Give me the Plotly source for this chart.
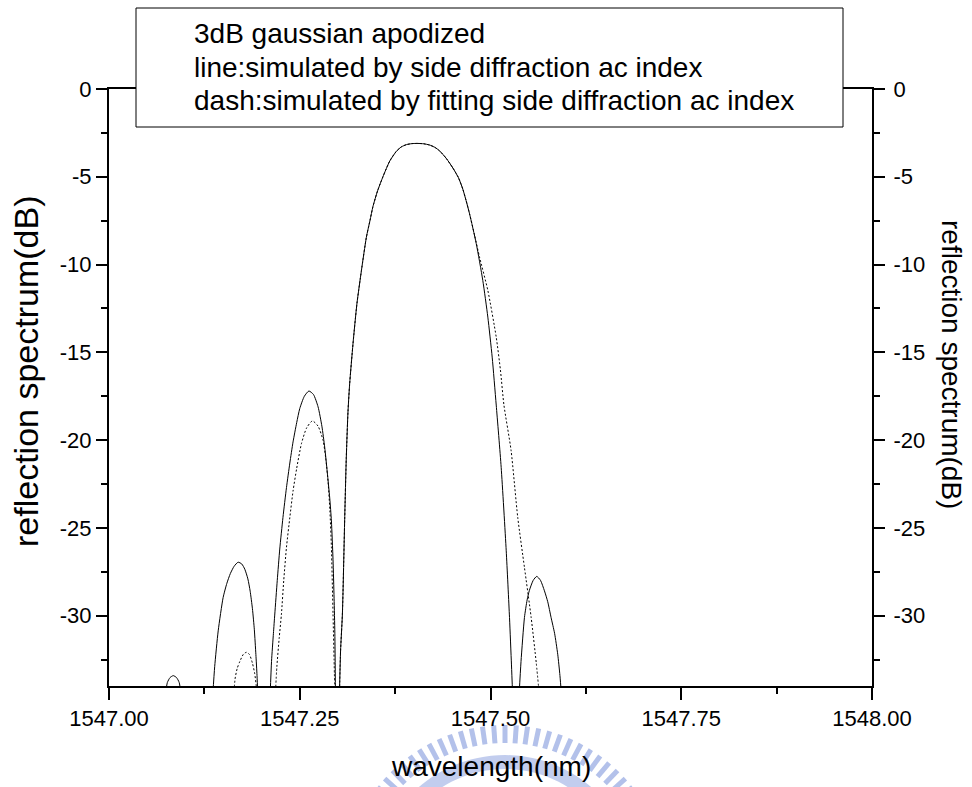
import math
import plotly.graph_objects as go

# ---- reflection spectrum, side-diffraction ac index (solid) ----
# each side lobe is its own run of points; None breaks the line between lobes
wl_side = [
    1547.0740, 1547.0765, 1547.0800, 1547.0842, 1547.0885, 1547.0920, 1547.0945, None,
    1547.1360, 1547.1385, 1547.1431, 1547.1496, 1547.1545, 1547.1590, 1547.1640, 1547.1692,
    1547.1740, 1547.1780, 1547.1820, 1547.1850, 1547.1880, 1547.1905, 1547.1925, 1547.1940,
    1547.1950, None,
    1547.2112, 1547.2130, 1547.2155, 1547.2173, 1547.2205, 1547.2238, 1547.2280, 1547.2326,
    1547.2370, 1547.2412, 1547.2460, 1547.2500, 1547.2560, 1547.2620, 1547.2680, 1547.2740,
    1547.2790, 1547.2827, 1547.2860, 1547.2893, 1547.2915, 1547.2936, 1547.2950, 1547.2960,
    1547.2968, None,
    1547.3020, 1547.3035, 1547.3059, 1547.3089, 1547.3110, 1547.3132, 1547.3154, 1547.3198,
    1547.3250, 1547.3308, 1547.3373, 1547.3420, 1547.3459, 1547.3520, 1547.3590, 1547.3680,
    1547.3766, 1547.3830, 1547.3897, 1547.3970, 1547.4048, 1547.4125, 1547.4201, 1547.4270,
    1547.4332, 1547.4420, 1547.4507, 1547.4580, 1547.4637, 1547.4680, 1547.4725, 1547.4813,
    1547.4899, 1547.4965, 1547.5022, 1547.5075, 1547.5140, 1547.5206, 1547.5249, 1547.5275,
    1547.5290, None,
    1547.5375, 1547.5400, 1547.5445, 1547.5480, 1547.5510, 1547.5560, 1547.5606, 1547.5655,
    1547.5707, 1547.5750, 1547.5794, 1547.5840, 1547.5881, 1547.5910, 1547.5930,
]
db_side = [
    -34.5, -33.80, -33.52, -33.41, -33.52, -33.80, -34.5, None,
    -34.5, -32.9, -30.86, -28.96, -28.15, -27.60, -27.18, -26.95,
    -27.05, -27.35, -27.9, -28.6, -29.6, -30.8, -32.2, -33.4,
    -34.5, None,
    -34.5, -32.6, -31.0, -29.9, -28.0, -26.2, -24.4, -22.7,
    -21.3, -20.1, -19.0, -18.2, -17.5, -17.2, -17.4, -18.1,
    -19.2, -20.4, -21.8, -23.3, -24.6, -26.8, -29.0, -31.0,
    -34.5, None,
    -34.5, -32.0, -29.9, -24.5, -21.0, -18.4, -16.8, -14.5,
    -12.2, -10.35, -8.45, -7.5, -6.7, -5.8, -5.0, -4.1,
    -3.55, -3.3, -3.17, -3.11, -3.10, -3.12, -3.19, -3.32,
    -3.52, -3.95, -4.5, -5.05, -5.7, -6.35, -7.1, -8.80,
    -10.90, -12.99, -15.27, -18.0, -21.55, -26.30, -30.10, -32.8,
    -34.5, None,
    -34.5, -32.6, -30.1, -29.1, -28.55, -27.98, -27.76, -27.98,
    -28.58, -29.2, -30.10, -31.0, -32.19, -33.4, -34.5,
]

# ---- reflection spectrum, fitted side-diffraction ac index (dotted) ----
wl_fit = [
    1547.1636, 1547.1652, 1547.1680, 1547.1715, 1547.1760, 1547.1800, 1547.1840, 1547.1880,
    1547.1910, 1547.1930, 1547.1937, None,
    1547.2180, 1547.2200, 1547.2230, 1547.2260, 1547.2290, 1547.2326, 1547.2370, 1547.2412,
    1547.2460, 1547.2522, 1547.2590, 1547.2666, 1547.2740, 1547.2805, 1547.2840, 1547.2870,
    1547.2895, 1547.2915, 1547.2936, 1547.2950, 1547.2960, None,
    1547.3020, 1547.3035, 1547.3059, 1547.3089, 1547.3110, 1547.3132, 1547.3154, 1547.3198,
    1547.3250, 1547.3308, 1547.3373, 1547.3420, 1547.3459, 1547.3520, 1547.3590, 1547.3680,
    1547.3766, 1547.3830, 1547.3897, 1547.3970, 1547.4048, 1547.4125, 1547.4201, 1547.4270,
    1547.4332, 1547.4420, 1547.4507, 1547.4580, 1547.4637, 1547.4680, 1547.4725, 1547.4790,
    1547.4856, 1547.4965, 1547.5075, 1547.5130, 1547.5176, 1547.5270, 1547.5357, 1547.5445,
    1547.5533, 1547.5600, 1547.5640,
]
db_fit = [
    -34.5, -33.6, -33.0, -32.6, -32.2, -32.08, -32.2, -32.7,
    -33.3, -34.0, -34.5, None,
    -34.5, -32.9, -31.3, -29.9, -28.0, -26.1, -24.4, -22.9,
    -21.6, -20.2, -19.3, -18.9, -19.2, -20.0, -21.0, -22.3,
    -24.0, -26.1, -29.9, -32.5, -34.5, None,
    -34.5, -32.0, -29.9, -24.5, -21.0, -18.4, -16.8, -14.5,
    -12.2, -10.35, -8.45, -7.5, -6.7, -5.8, -5.0, -4.1,
    -3.55, -3.3, -3.17, -3.11, -3.10, -3.12, -3.19, -3.32,
    -3.52, -3.95, -4.5, -5.05, -5.7, -6.35, -7.1, -8.3,
    -9.57, -11.47, -14.13, -16.0, -18.0, -20.59, -24.40, -27.25,
    -30.10, -32.7, -34.5,
]

# axis ticks
x_ticks = [1547.00, 1547.25, 1547.50, 1547.75, 1548.00]
x_ticktext = ["1547.00", "1547.25", "1547.50", "1547.75", "1548.00"]
y_ticks = [0, -5, -10, -15, -20, -25, -30]
y_ticktext = ["0", "-5", "-10", "-15", "-20", "-25", "-30"]

note_lines = [
    "3dB gaussian apodized",
    "line:simulated by side diffraction ac index",
    "dash:simulated by fitting side diffraction ac index",
]

# ---- page geometry (pixels) ----
W, H = 972, 787
ML, MR, MT, MB = 109, 100, 89, 101
PW, PH = W - ML - MR, H - MT - MB
FONT = "Liberation Sans, Arial, Helvetica, sans-serif"


def px_x(px):
    return (px - ML) / PW


def px_y(py):
    return (H - MB - py) / PH


fig = go.Figure()
fig.add_trace(go.Scatter(
    x=wl_side, y=db_side, mode="lines", connectgaps=False,
    line=dict(color="black", width=1, shape="spline", smoothing=0.6),
    hoverinfo="skip", showlegend=False,
))
fig.add_trace(go.Scatter(
    x=wl_fit, y=db_fit, mode="lines", connectgaps=False,
    line=dict(color="black", width=1, dash="2px,2px", shape="spline", smoothing=0.6),
    hoverinfo="skip", showlegend=False,
))
# carrier for the right-hand axis
fig.add_trace(go.Scatter(x=[None], y=[None], yaxis="y2", mode="lines",
                         hoverinfo="skip", showlegend=False))

tick_font = dict(family=FONT, size=22, color="black")
yax_common = dict(
    range=[-34, 0], tickmode="array", tickvals=y_ticks, ticktext=y_ticktext,
    showgrid=False, zeroline=False, showline=True, linecolor="black", linewidth=2,
    ticks="outside", ticklen=11, tickwidth=2, tickcolor="black",
    minor=dict(dtick=2.5, tick0=0, ticks="outside", ticklen=6, tickwidth=2, tickcolor="black"),
    tickfont=tick_font, fixedrange=True,
)

fig.update_layout(
    width=W, height=H,
    margin=dict(l=ML, r=MR, t=MT, b=MB, pad=0),
    paper_bgcolor="white", plot_bgcolor="white",
    showlegend=False,
    xaxis=dict(
        range=[1547.0, 1548.0], tickmode="array", tickvals=x_ticks, ticktext=x_ticktext,
        showgrid=False, zeroline=False, showline=True, mirror=True,
        linecolor="black", linewidth=2,
        ticks="outside", ticklen=12, tickwidth=2, tickcolor="black",
        minor=dict(dtick=0.125, tick0=1547.0, ticks="outside", ticklen=6, tickwidth=2,
                   tickcolor="black"),
        tickfont=tick_font, fixedrange=True,
    ),
    yaxis=dict(side="left", **yax_common),
    yaxis2=dict(side="right", overlaying="y", anchor="x", ticklabelstandoff=4, **yax_common),
)

# boxed note at the top of the frame
fig.add_shape(type="rect", xref="paper", yref="paper",
              x0=px_x(136), x1=px_x(843), y0=px_y(127), y1=px_y(8),
              line=dict(color="black", width=1), fillcolor="white", layer="above")
for i, line in enumerate(note_lines):
    fig.add_annotation(text=line, xref="paper", yref="paper",
                       x=px_x(192), y=px_y(33.5 + 33.7 * i),
                       xanchor="left", yanchor="middle", showarrow=False,
                       font=dict(family=FONT, size=28, color="black"))

# axis titles
title_font = dict(family=FONT, size=28, color="black")
fig.add_annotation(text="wavelength(nm)", xref="paper", yref="paper",
                   x=px_x(490.5), y=px_y(766), xanchor="center", yanchor="middle",
                   showarrow=False, font=title_font)
fig.add_annotation(text="reflection spectrum(dB)", xref="paper", yref="paper",
                   x=px_x(26), y=px_y(372), xanchor="center", yanchor="middle",
                   textangle=-90, showarrow=False,
                   font=dict(family=FONT, size=34, color="black"))
fig.add_annotation(text="reflection spectrum(dB)", xref="paper", yref="paper",
                   x=px_x(952), y=px_y(365), xanchor="center", yanchor="middle",
                   textangle=90, showarrow=False, font=title_font)

# faint blue emblem printed beneath the x-axis title
emblem_blue = "#b3c1ea"
cx, cy = 505, 887
for deg in range(-56, 57, 4):
    a = math.radians(deg)
    r0, r1 = 144, 162
    fig.add_shape(type="line", xref="paper", yref="paper",
                  x0=px_x(cx + r0 * math.sin(a)), y0=px_y(cy - r0 * math.cos(a)),
                  x1=px_x(cx + r1 * math.sin(a)), y1=px_y(cy - r1 * math.cos(a)),
                  line=dict(color=emblem_blue, width=5), layer="below")
ring_out = [(cx + 132 * math.sin(math.radians(d)), cy - 132 * math.cos(math.radians(d)))
            for d in range(-48, 49, 3)]
ring_in = [(cx + 118 * math.sin(math.radians(d)), cy - 118 * math.cos(math.radians(d)))
           for d in range(48, -49, -3)]
pts = ring_out + ring_in
path = "M " + " L ".join(f"{px_x(p[0]):.5f},{px_y(p[1]):.5f}" for p in pts) + " Z"
fig.add_shape(type="path", xref="paper", yref="paper", path=path,
              fillcolor=emblem_blue, line=dict(width=0), layer="below", opacity=0.8)

fig.write_html("out.html")
